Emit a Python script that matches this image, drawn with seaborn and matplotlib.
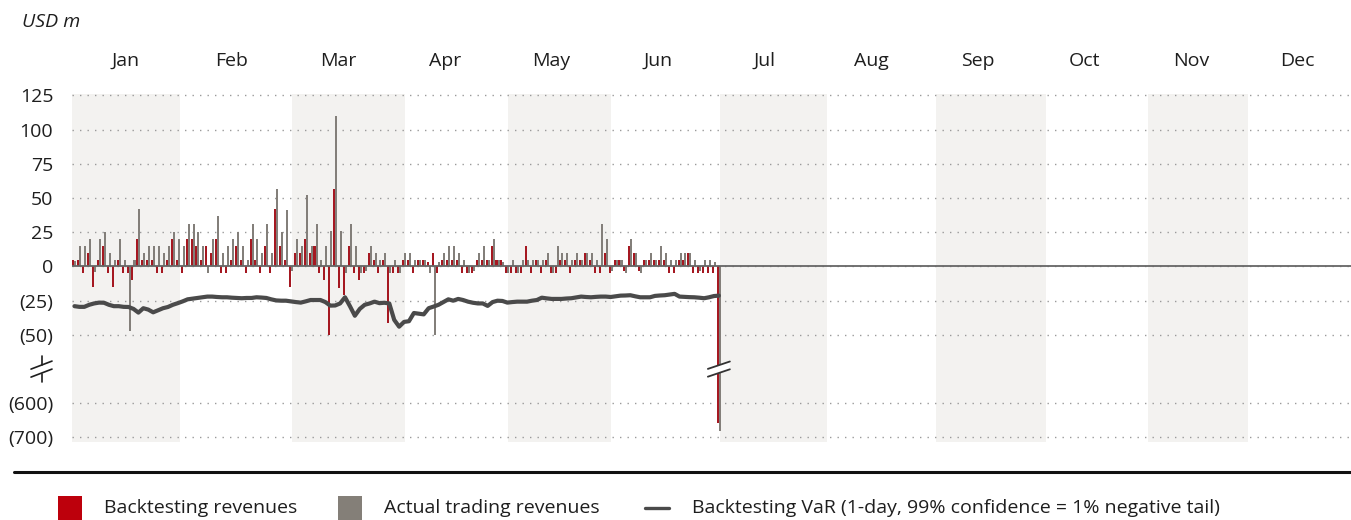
import numpy as np
import pandas as pd
import matplotlib
matplotlib.use("Agg")
import matplotlib.pyplot as plt
import seaborn as sns
from matplotlib.patches import Rectangle, Polygon
from matplotlib.lines import Line2D

# ---------------- data ----------------
months = ["Jan", "Feb", "Mar", "Apr", "May", "Jun",
          "Jul", "Aug", "Sep", "Oct", "Nov", "Dec"]

backtesting = [
    5, 5, -5, 10, -15, 5, 15, -5, -15, 5, -5, -5, -10, 20, 5, 5, 5, -5, -5, 5, 20, 5,
    -5, 20, 20, 15, 5, 15, 10, 20, -5, -5, 5, 15, 5, -5, 20, 5, -5, 15, -5, 42, 15, 5,
    -15, 10, 10, 20, 10, 15, -5, -10, -52, 57, -16, -21, 15, -5, -10, -5, 10, 5, -5, 5, -41,
    -5, -5, 5, 5, -5, 5, 5, 3, 10, -5, 5, 5, 5, 5, -5, -5, -5, 5, 5, 5, 15, 5, 5,
    -5, -5, -5, -5, 15, -5, 5, -5, 5, -5, -5, 5, 5, -5, 5, 5, 10, 5, -5, -5, 10,
    -5, 5, 5, -3, 15, 10, -3, 5, 5, 5, 5, 5, -5, -5, 5, 5, 10, -5, -5, -5, -5, -5, -658,
]

actual = [
    4, 15, 15, 20, -4, 20, 25, 10, 5, 20, 5, -47, 5, 42, 10, 15, 15, 15, 10, 15, 25, 20,
    15, 31, 31, 25, 15, -5, 20, 37, 10, 15, 20, 25, 15, 5, 31, 20, 10, 31, 10, 57, 25, 41,
    -3, 20, 15, 52, 15, 31, 5, 15, 26, 110, 26, -5, 31, 15, -5, -3, 15, 10, 5, 10, -5,
    5, -5, 10, 10, 5, 5, 5, -5, -52, 3, 10, 15, 15, 10, 5, -5, -3, 10, 15, 5, 20, 5, 3,
    -5, 5, -5, 5, 5, 5, 5, 5, 10, -5, 15, 10, 10, 5, 10, 5, 10, 10, 5, 31, 20,
    -3, 5, 5, -5, 20, 10, -5, 5, 10, 5, 15, 10, 5, 5, 10, 10, 10, 5, -3, 5, 5, 3, -680,
]

var_1day = [
    -29, -29.5, -29.5, -28, -27, -26.4, -26.5, -28, -29, -29, -29.5, -29.6, -31, -33.7,
    -30.5, -31.5, -33.5, -32, -30.5, -29.6, -28, -26.8,
    -25.5, -24, -23.5, -23, -22.5, -22, -22, -22.3, -22.5, -22.5, -22.8, -23, -23.2, -23,
    -23, -22.5, -22.7, -23, -24, -24.8, -25, -25,
    -25.5, -26, -26.4, -25.5, -24.5, -24.5, -24.5, -26, -28.6, -28.5, -27, -22.5, -29,
    -36, -31, -28, -27, -25.7, -26.8, -26.5, -27,
    -39, -44, -40.5, -40, -34, -34.5, -35, -30.5, -29.3, -28, -26, -24, -25, -23.7,
    -24.5, -25.7, -26.5, -27, -27, -28.8, -26, -25, -25.2,
    -26.4, -26, -25.7, -25.7, -25.7, -25, -24.5, -22.8, -23.3, -23.7, -23.7, -23.7,
    -23.4, -23.2, -22.6, -22, -22.3, -22.5, -22.2, -22, -22,
    -22.3, -21.8, -21.3, -21.2, -21, -21.8, -22.5, -22.5, -22.5, -21.5, -21.2, -21,
    -20.5, -20, -22, -22.2, -22.4, -22.5, -22.8, -23.2, -22.5, -21.6, -21.3,
]

ytick_values = [125, 100, 75, 50, 25, 0, -25, -50, -600, -700]
ytick_labels = ["125", "100", "75", "50", "25", "0", "(25)", "(50)", "(600)", "(700)"]

series_names = ["Backtesting revenues", "Actual trading revenues"]
var_name = "Backtesting VaR (1-day, 99% confidence = 1% negative tail)"

# ---------------- style ----------------
RED = "#BD000C"
GRAY = "#847F78"
BAND = "#F3F2F0"
VARC = "#4A4A4A"
TXT = "#1E1E1E"
FS = 14

sns.set_theme(style="white")
plt.rcParams["font.family"] = ["Open Sans", "DejaVu Sans"]
plt.rcParams["font.size"] = FS

W, H = 1351, 520
fig = plt.figure(figsize=(W / 100, H / 100), dpi=100)

PX_SLOT = 1279 / 260.0          # pixels per trading-day slot
ax_top_px, ax_bot_px = 94.13, 441.6
ax = fig.add_axes([72 / W, 1 - ax_bot_px / H, 1279 / W, (ax_bot_px - ax_top_px) / H])

# long dataframe for seaborn
n = len(backtesting)
day_pos = np.arange(n) + 0.5
df = pd.DataFrame({
    "day": np.concatenate([day_pos, day_pos]),
    "value": np.array(backtesting + actual, dtype=float),
    "series": [series_names[0]] * n + [series_names[1]] * n,
})

# month shading (Jan, Mar, May, Jul, Sep, Nov)
band_px = [72, 180, 292, 405, 508, 611, 720, 827, 936, 1046, 1148, 1248, 1351]
band_edges = [(p - 72) / PX_SLOT for p in band_px]
for i in range(0, 12, 2):
    ax.axvspan(band_edges[i], band_edges[i + 1], color=BAND, lw=0, zorder=0)

sns.barplot(data=df, x="day", y="value", hue="series", hue_order=series_names,
            palette=[RED, GRAY], native_scale=True, dodge=True, width=0.82,
            errorbar=None, linewidth=0, legend=False, ax=ax, zorder=2)

sns.lineplot(x=day_pos, y=var_1day, color=VARC, lw=3.0, ax=ax, zorder=4,
             solid_capstyle="round", solid_joinstyle="round")

ax.axhline(0, color="#666666", lw=1.3, zorder=3)


# broken y axis via a piecewise-linear function scale
def fwd(v):
    v = np.asarray(v, dtype=float)
    return np.where(v >= -50, v / 25.0,
                    np.where(v >= -600, -2 + (v + 50) * 2 / 550.0, -4 + (v + 600) / 100.0))


def inv(p):
    p = np.asarray(p, dtype=float)
    return np.where(p >= -2, p * 25.0,
                    np.where(p >= -4, -50 + (p + 2) * 275.0, -600 + (p + 4) * 100.0))


ax.set_yscale("function", functions=(fwd, inv))
ax.set_ylim(-712, 126)
ax.set_xlim(0, 260)

ax.set_yticks(ytick_values)
ax.set_yticklabels(ytick_labels)
ax.set_xticks([])
ax.set_xlabel("")
ax.set_ylabel("")
ax.tick_params(axis="y", length=0, pad=13.5, labelsize=FS, labelcolor=TXT)
for s in ax.spines.values():
    s.set_visible(False)
ax.set_axisbelow(True)
ax.grid(axis="y", color="#9A9A9A", lw=1.0, linestyle=(0, (1, 4.4)), zorder=1)
ax.grid(axis="x", visible=False)

# month labels above the plot
for i, m in enumerate(months):
    ax.text((i + 0.5) * 260 / 12.0, 1.0 + 33.5 / (ax_bot_px - ax_top_px), m,
            transform=ax.get_xaxis_transform(), ha="center", va="center",
            fontsize=FS, color=TXT)

fig.canvas.draw()


def disp_to_fig(x, y):
    return fig.transFigure.inverted().transform((x, y))


# break mark on the large last bar
cx, cy = ax.transData.transform((day_pos[-1], -325))
half_w, rise, gap = 11.0, 3.7, 3.9
upper = [(cx - half_w, cy + gap - rise), (cx + half_w, cy + gap + rise)]
lower = [(cx - half_w, cy - gap - rise), (cx + half_w, cy - gap + rise)]
poly = [disp_to_fig(*p) for p in [upper[0], upper[1], lower[1], lower[0]]]
fig.patches.append(Polygon(poly, closed=True, transform=fig.transFigure,
                           facecolor="white", edgecolor="none", zorder=5))
for seg in (upper, lower):
    a, b = disp_to_fig(*seg[0]), disp_to_fig(*seg[1])
    fig.lines.append(Line2D([a[0], b[0]], [a[1], b[1]], transform=fig.transFigure,
                            color="#333333", lw=1.3, zorder=6))

# break mark on the axis labels
bx = 41.5
_, by = ax.transData.transform((0, -325))
for dy in (4.0, -4.0):
    a = disp_to_fig(bx - 10.5, by + dy - 4.0)
    b = disp_to_fig(bx + 10.5, by + dy + 4.0)
    fig.lines.append(Line2D([a[0], b[0]], [a[1], b[1]], transform=fig.transFigure,
                            color=TXT, lw=1.2))
for y0, y1 in ((by + 4.5, by + 13), (by - 4.5, by - 13)):
    a = disp_to_fig(bx, y0)
    b = disp_to_fig(bx, y1)
    fig.lines.append(Line2D([a[0], b[0]], [a[1], b[1]], transform=fig.transFigure,
                            color=TXT, lw=1.2))

# unit label
fig.text(22 / W, 1 - 22 / H, "USD m", ha="left", va="center", fontsize=FS,
         style="italic", color=TXT)

# thick separator line
fig.lines.append(Line2D([14 / W, 1.0], [1 - 471.5 / H, 1 - 471.5 / H],
                        transform=fig.transFigure, color="#111111", lw=2.2))

# legend
ly = 1 - 508 / H
fig.patches.append(Rectangle((58 / W, 1 - 522 / H), 24 / W, 26 / H,
                             transform=fig.transFigure, facecolor=RED, edgecolor="none"))
fig.text(104 / W, ly, series_names[0], ha="left", va="center", fontsize=FS, color=TXT)
fig.patches.append(Rectangle((338 / W, 1 - 522 / H), 24 / W, 26 / H,
                             transform=fig.transFigure, facecolor=GRAY, edgecolor="none"))
fig.text(384 / W, ly, series_names[1], ha="left", va="center", fontsize=FS, color=TXT)
fig.lines.append(Line2D([645 / W, 669 / W], [ly, ly], transform=fig.transFigure,
                        color=VARC, lw=2.4))
fig.text(692 / W, ly, var_name, ha="left", va="center", fontsize=FS, color=TXT)

fig.savefig("out.png", dpi=100)
